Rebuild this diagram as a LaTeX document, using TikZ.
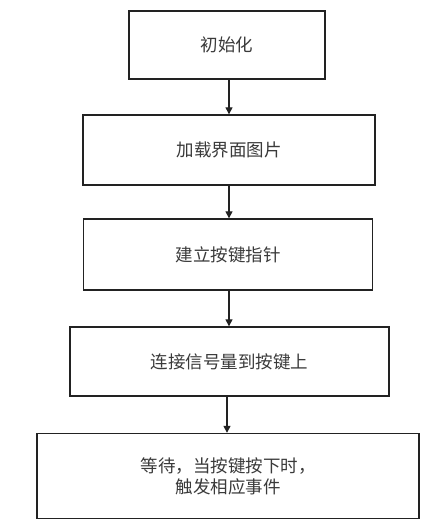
\documentclass[tikz,border=0pt]{standalone}
\usepackage{fontspec}
\newfontfamily\cjk{Noto Sans CJK SC}
\usetikzlibrary{arrows.meta}
\definecolor{boxline}{HTML}{222222}
\definecolor{txt}{HTML}{3A3A3A}
\tikzset{
  stepbox/.style={draw=boxline, line width=1.4pt, fill=white, inner sep=0pt,
    font=\cjk\fontsize{17.5}{21}\selectfont, text=txt, align=center},
  flow/.style={draw=boxline, line width=1.3pt, -{Triangle[length=7pt,width=7pt]}}
}
\begin{document}
\begin{tikzpicture}[x=1pt,y=-1pt]
\useasboundingbox[fill=white] (0,0) rectangle (444,525);
\node[stepbox, minimum width=196pt, minimum height=68pt] (a) at (227,45) {初始化};
\node[stepbox, minimum width=292pt, minimum height=70pt] (b) at (229,150) {加载界面图片};
\node[stepbox, minimum width=289pt, minimum height=71pt] (c) at (228,254.5) {建立按键指针};
\node[stepbox, minimum width=319pt, minimum height=69pt] (d) at (229.5,361.5) {连接信号量到按键上};
\node[stepbox, minimum width=382pt, minimum height=85pt] (e) at (228,476) {等待，当按键按下时，\\触发相应事件};
\draw[flow] (a.south -| 229,0) -- (b.north -| 229,0);
\draw[flow] (b.south -| 229,0) -- (c.north -| 229,0);
\draw[flow] (c.south -| 229,0) -- (d.north -| 229,0);
\draw[flow] (d.south -| 227,0) -- (e.north -| 227,0);
\end{tikzpicture}
\end{document}
